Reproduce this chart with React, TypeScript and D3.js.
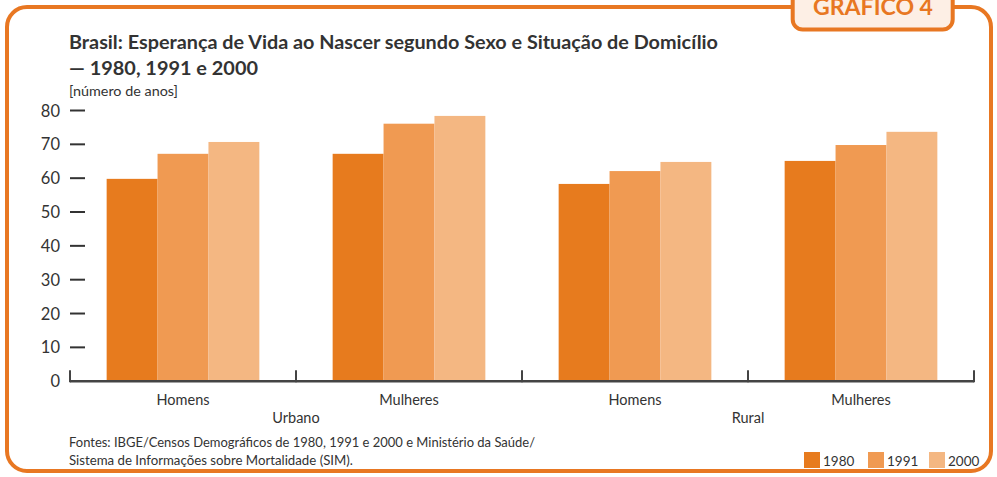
import { scaleBand, scaleLinear } from "d3";

// dados do gráfico
const groups = ["Urbano", "Rural"];
const sexes = ["Homens", "Mulheres"];
const years = ["1980", "1991", "2000"];
const urbanoHomens = [59.8, 67.2, 70.7];
const urbanoMulheres = [67.2, 76.1, 78.4];
const ruralHomens = [58.3, 62.1, 64.8];
const ruralMulheres = [65.1, 69.8, 73.7];
const yTicks = [0, 10, 20, 30, 40, 50, 60, 70, 80];
const colors = ["#E77B1E", "#F09A52", "#F4B782"];

const seriesValues = [urbanoHomens, urbanoMulheres, ruralHomens, ruralMulheres];
const cats = groups.flatMap((g) => sexes.map((s) => `${g}|${s}`));

const ORANGE = "#E87722";
const TEXT = "#333333";
const FONT = "Lato, 'Open Sans', sans-serif";

export default function App() {
  const W = 997;
  const H = 477;
  const x0 = scaleBand<string>().domain(cats).range([70, 974]).padding(0);
  const x1 = scaleBand<string>()
    .domain(years)
    .range([0, x0.bandwidth()])
    .paddingInner(0)
    .paddingOuter(0.72);
  const y = scaleLinear().domain([0, 80]).range([381.2, 110.5]);
  const base = y(0);

  // moldura
  const L = 7, T = 7, R = 991, B = 471, r = 20;
  const frame = `M792,${T} L${L + r},${T} A${r},${r} 0 0 0 ${L},${T + r} L${L},${B - r} A${r},${r} 0 0 0 ${L + r},${B} L${R - r},${B} A${r},${r} 0 0 0 ${R},${B - r} L${R},${T + r} A${r},${r} 0 0 0 ${R - r},${T} L953,${T}`;

  return (
    <svg
      width={W}
      height={H}
      style={{ position: "absolute", left: 0, top: 0, background: "#fff" }}
      fontFamily={FONT}
    >
      <path d={frame} fill="none" stroke={ORANGE} strokeWidth={4} />
      <rect x={792.7} y={-20} width={160} height={49.5} rx={10} fill="#FDEFE5" stroke={ORANGE} strokeWidth={4} />
      <text x={873} y={14.5} textAnchor="middle" fill={ORANGE} fontSize={22} fontWeight={700} textLength={120} lengthAdjust="spacingAndGlyphs">
        GRÁFICO 4
      </text>

      <text x={69} y={49} fill={TEXT} fontSize={18.5} fontWeight={700} textLength={649} lengthAdjust="spacingAndGlyphs">
        Brasil: Esperança de Vida ao Nascer segundo Sexo e Situação de Domicílio
      </text>
      <text x={69} y={75} fill={TEXT} fontSize={18.5} fontWeight={700} textLength={189} lengthAdjust="spacingAndGlyphs">
        — 1980, 1991 e 2000
      </text>
      <text x={69} y={96} fill={TEXT} fontSize={13.5} textLength={109} lengthAdjust="spacingAndGlyphs">
        [número de anos]
      </text>

      {/* eixo y */}
      {yTicks.map((t) => (
        <g key={t}>
          <text x={60} y={y(t) + 6} textAnchor="end" fill={TEXT} fontSize={16.5}>
            {t}
          </text>
          {t > 0 && <line x1={70} x2={85} y1={y(t)} y2={y(t)} stroke={TEXT} strokeWidth={2} />}
        </g>
      ))}

      {/* barras */}
      {cats.map((c, i) => (
        <g key={c} transform={`translate(${x0(c)},0)`}>
          {years.map((yr, j) => (
            <rect
              key={yr}
              x={x1(yr)}
              y={y(seriesValues[i][j])}
              width={x1.bandwidth()}
              height={base - y(seriesValues[i][j])}
              fill={colors[j]}
            />
          ))}
        </g>
      ))}

      {/* eixo x */}
      <line x1={70} x2={974} y1={base} y2={base} stroke="#444" strokeWidth={2.5} />
      {[...cats.map((c) => x0(c) as number), 974].map((xx, i) => (
        <line key={i} x1={xx} x2={xx} y1={base + 1} y2={base - 11} stroke="#444" strokeWidth={2} />
      ))}
      {cats.map((c) => (
        <text
          key={c}
          x={(x0(c) as number) + x0.bandwidth() / 2}
          y={405}
          textAnchor="middle"
          fill={TEXT}
          fontSize={14.5}
        >
          {c.split("|")[1]}
        </text>
      ))}
      {groups.map((g, i) => (
        <text
          key={g}
          x={x0(cats[i * 2 + 1]) as number}
          y={423}
          textAnchor="middle"
          fill={TEXT}
          fontSize={14.5}
        >
          {g}
        </text>
      ))}

      {/* fonte */}
      <text x={69} y={447} fill={TEXT} fontSize={12.5} textLength={466} lengthAdjust="spacingAndGlyphs">
        Fontes: IBGE/Censos Demográficos de 1980, 1991 e 2000 e Ministério da Saúde/
      </text>
      <text x={69} y={465} fill={TEXT} fontSize={12.5} textLength={284} lengthAdjust="spacingAndGlyphs">
        Sistema de Informações sobre Mortalidade (SIM).
      </text>

      {/* legenda */}
      {years.map((yr, j) => {
        const lx = [804, 868, 929][j];
        return (
          <g key={yr}>
            <rect x={lx} y={452} width={16} height={16} fill={colors[j]} />
            <text x={lx + 19} y={466} fill={TEXT} fontSize={13.5}>
              {yr}
            </text>
          </g>
        );
      })}
    </svg>
  );
}
